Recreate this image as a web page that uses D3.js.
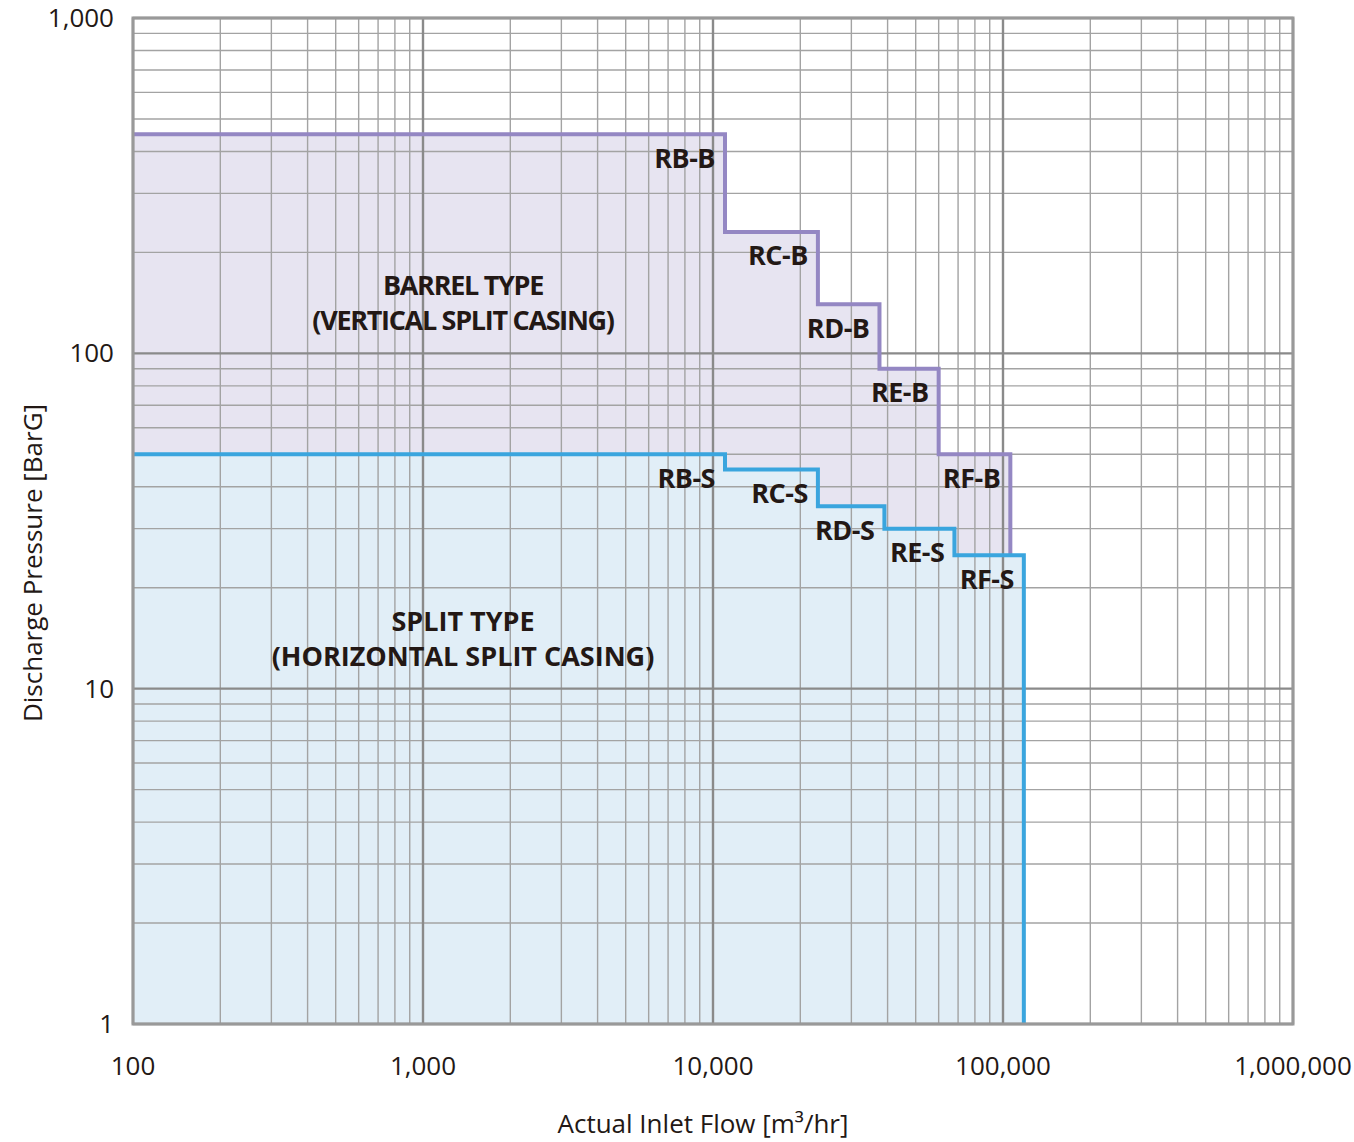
<!DOCTYPE html>
<meta charset="utf-8">
<title>Compressor coverage</title>
<body>
<script src="https://cdn.jsdelivr.net/npm/d3@7"></script>
<style>
html, body {
    margin: 0;
    background: #fff;
}
svg {
    display: block;
    font-family: "Open Sans", "Noto Sans", sans-serif;
}
</style>
<script>
// step envelopes: flow at right end of each step, pressure of that step
var barrelFlow = [11000, 23000, 37500, 60000, 106000],
    barrelPressure = [450, 230, 140, 90, 50],
    barrelLabels = ["RB-B", "RC-B", "RD-B", "RE-B", "RF-B"];

var splitFlow = [11000, 23000, 39000, 68000, 118000],
    splitPressure = [50, 45, 35, 30, 25],
    splitLabels = ["RB-S", "RC-S", "RD-S", "RE-S", "RF-S"];

var xTicks = [100, 1000, 10000, 100000, 1000000],
    yTicks = [1, 10, 100, 1000];

var width = 1354,
    height = 1142,
    margin = {top: 18, right: 61, bottom: 118, left: 133};

var svg = d3.select("body").append("svg")
    .attr("width", width)
    .attr("height", height);

var x = d3.scaleLog().domain([100, 1e6]).range([margin.left, width - margin.right]),
    y = d3.scaleLog().domain([1, 1000]).range([height - margin.bottom, margin.top]);

function stepPath(flows, pressures, endPressure) {
    var pts = [[100, pressures[0]]];
    flows.forEach(function(f, i) {
        pts.push([f, pressures[i]]);
        pts.push([f, i < flows.length - 1 ? pressures[i + 1] : endPressure]);
    });
    return pts;
}

// level of the split envelope at a given flow
function splitAt(f) {
    for (var i = 0; i < splitFlow.length; i++) if (f <= splitFlow[i]) return splitPressure[i];
    return 1;
}

var line = d3.line().x(function(d) { return x(d[0]); }).y(function(d) { return y(d[1]); });

var barrelPts = stepPath(barrelFlow, barrelPressure, 1),
    splitPts = stepPath(splitFlow, splitPressure, 1);

svg.append("path")
    .attr("d", line(barrelPts.concat([[100, 1]])) + "Z")
    .attr("fill", "#e7e4f1");

svg.append("path")
    .attr("d", line(splitPts.concat([[100, 1]])) + "Z")
    .attr("fill", "#e1eef7");

// grid
var grid = svg.append("g");
var xMinor = [], yMinor = [];
[100, 1000, 10000, 100000].forEach(function(d) {
    for (var k = 2; k < 10; k++) xMinor.push(d * k);
});
[1, 10, 100].forEach(function(d) {
    for (var k = 2; k < 10; k++) yMinor.push(d * k);
});

grid.selectAll(".xm").data(xMinor).enter().append("line")
    .attr("x1", x).attr("x2", x)
    .attr("y1", y(1)).attr("y2", y(1000))
    .attr("stroke", "#a3a3a3").attr("stroke-width", 1.4);
grid.selectAll(".ym").data(yMinor).enter().append("line")
    .attr("y1", y).attr("y2", y)
    .attr("x1", x(100)).attr("x2", x(1e6))
    .attr("stroke", "#a3a3a3").attr("stroke-width", 1.4);
grid.selectAll(".xM").data(xTicks).enter().append("line")
    .attr("x1", x).attr("x2", x)
    .attr("y1", y(1)).attr("y2", y(1000))
    .attr("stroke", "#8a8a8a").attr("stroke-width", 2.4);
grid.selectAll(".yM").data(yTicks).enter().append("line")
    .attr("y1", y).attr("y2", y)
    .attr("x1", x(100)).attr("x2", x(1e6))
    .attr("stroke", "#8a8a8a").attr("stroke-width", 2.4);

// envelopes
var lastB = barrelFlow[barrelFlow.length - 1];
var barrelLine = stepPath(barrelFlow, barrelPressure, splitAt(lastB));
svg.append("path")
    .attr("d", line(barrelLine))
    .attr("fill", "none")
    .attr("stroke", "#9487c3")
    .attr("stroke-width", 4);

svg.append("path")
    .attr("d", line(splitPts))
    .attr("fill", "none")
    .attr("stroke", "#3aa5de")
    .attr("stroke-width", 4);

// frame
svg.append("rect")
    .attr("x", x(100)).attr("y", y(1000))
    .attr("width", x(1e6) - x(100)).attr("height", y(1) - y(1000))
    .attr("fill", "none").attr("stroke", "#999").attr("stroke-width", 3);

// step labels
function stepLabels(flows, pressures, names) {
    svg.append("g").selectAll("text").data(names).enter().append("text")
        .attr("x", function(d, i) { return x(flows[i]) - 10; })
        .attr("y", function(d, i) { return y(pressures[i]) + 24; })
        .attr("dy", "0.35em")
        .attr("text-anchor", "end")
        .attr("font-size", 27)
        .attr("font-weight", "bold")
        .attr("letter-spacing", -0.5)
        .attr("fill", "#231815")
        .text(function(d) { return d; });
}
stepLabels(barrelFlow, barrelPressure, barrelLabels);
stepLabels(splitFlow, splitPressure, splitLabels);

// region titles
var regions = [
    {lines: ["BARREL TYPE", "(VERTICAL SPLIT CASING)"], cx: 463, cy: 286, ls: -1.3},
    {lines: ["SPLIT TYPE", "(HORIZONTAL SPLIT CASING)"], cx: 463, cy: 622, ls: 0}
];
regions.forEach(function(r) {
    r.lines.forEach(function(t, i) {
        svg.append("text")
            .attr("x", r.cx).attr("y", r.cy + i * 35)
            .attr("dy", "0.35em")
            .attr("text-anchor", "middle")
            .attr("font-size", 27)
            .attr("font-weight", "bold")
            .attr("letter-spacing", r.ls)
            .attr("fill", "#231815")
            .text(t);
    });
});

// tick labels
var fmt = d3.format(",");
svg.append("g").selectAll("text").data(xTicks).enter().append("text")
    .attr("x", x).attr("y", y(1) + 42)
    .attr("dy", "0.35em")
    .attr("text-anchor", "middle")
    .attr("font-size", 26)
    .attr("fill", "#231815")
    .text(fmt);

svg.append("g").selectAll("text").data(yTicks).enter().append("text")
    .attr("x", x(100) - 19).attr("y", y)
    .attr("dy", "0.35em")
    .attr("text-anchor", "end")
    .attr("font-size", 26)
    .attr("fill", "#231815")
    .text(fmt);

// axis titles
svg.append("text")
    .attr("x", 703).attr("y", 1124)
    .attr("dy", "0.35em")
    .attr("text-anchor", "middle")
    .attr("font-size", 26)
    .attr("fill", "#231815")
    .text("Actual Inlet Flow [m³/hr]");

svg.append("text")
    .attr("transform", "translate(33,563)rotate(-90)")
    .attr("dy", "0.35em")
    .attr("text-anchor", "middle")
    .attr("font-size", 26)
    .attr("fill", "#231815")
    .text("Discharge Pressure [BarG]");
</script>
